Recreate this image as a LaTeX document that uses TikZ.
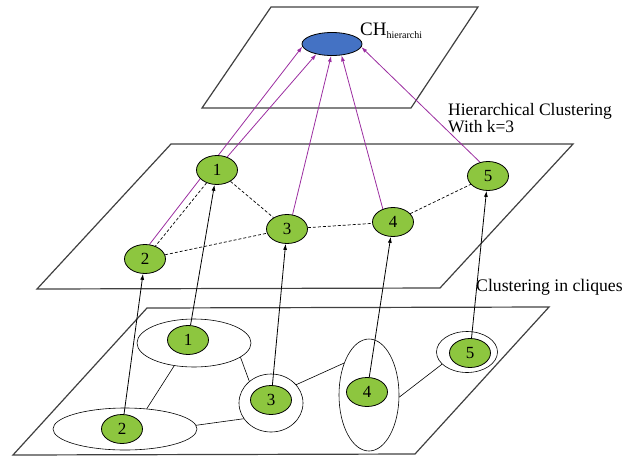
\documentclass[tikz,border=0pt]{standalone}
\usepackage{fontspec}
\setmainfont{Liberation Serif}
\usetikzlibrary{shapes.geometric,arrows.meta}
\definecolor{nodegreen}{RGB}{141,198,63}
\definecolor{chblue}{RGB}{68,114,196}
\definecolor{linkpurple}{RGB}{155,45,160}
\pgfdeclarelayer{back}
\pgfsetlayers{back,main}

\begin{document}
\begin{tikzpicture}[x=1pt,y=-1pt,
		vertice/.style = {ellipse,draw,line width=0.8pt,fill=nodegreen,minimum width=41pt,minimum height=29pt,inner sep=0pt,font=\fontsize{17}{17}\selectfont},
		clique/.style = {ellipse,draw,line width=0.6pt,inner sep=0pt},
		plane/.style = {draw=black!75,line width=1.2pt},
		link/.style = {line width=0.7pt,dash pattern=on 3pt off 2pt},
		lift/.style = {line width=0.8pt,-{Latex[length=6pt,width=4pt]}},
		merge/.style = {linkpurple,line width=0.8pt,-{Latex[length=6pt,width=4pt]}}]
		\useasboundingbox (0,0) rectangle (632,456);
		
		% top level
		\node[ellipse,draw,line width=0.8pt,fill=chblue,minimum width=60pt,minimum height=23pt] (ch) at (332,44) {};
		\node[anchor=base west,inner sep=0pt] (chname) at (360,35) {\fontsize{19}{19}\selectfont CH\raisebox{-3pt}{\fontsize{10}{10}\selectfont hierarchi}};
		\node[anchor=north west,align=left,inner sep=0pt,font=\fontsize{17.5}{17}\selectfont] (hclabel) at (448,103) {Hierarchical Clustering\\With k=3};
		
		% middle level
		\node[vertice] (m1) at (217,170) {1};
		\node[vertice] (m2) at (145,259) {2};
		\node[vertice] (m3) at (287,229) {3};
		\node[vertice] (m4) at (393,222) {4};
		\node[vertice] (m5) at (488,176) {5};
		\node[anchor=base west,inner sep=0pt,font=\fontsize{17.7}{17}\selectfont] (cqlabel) at (476,291) {Clustering in cliques};
		
		% bottom level
		\node[clique,minimum width=114pt,minimum height=48pt] (c1) at (194,343) {};
		\node[clique,minimum width=144pt,minimum height=42pt] (c2) at (125,429) {};
		\node[clique,minimum width=64pt,minimum height=58pt] (c3) at (271,403) {};
		\node[clique,minimum width=60pt,minimum height=112pt] (c4) at (369,395) {};
		\node[clique,minimum width=61pt,minimum height=41pt] (c5) at (467,352) {};
		\node[vertice] (b1) at (188,340) {1};
		\node[vertice] (b2) at (122,429) {2};
		\node[vertice] (b3) at (271,400) {3};
		\node[vertice] (b4) at (367,392) {4};
		\node[vertice] (b5) at (470,353) {5};
		
		\begin{pgfonlayer}{back}
			\draw[plane] (271,7) -- (478,7) -- (411,108) -- (202,108) -- cycle;
			\draw[plane] (171,144) -- (573,144) -- (440,288) -- (37,289) -- cycle;
			\draw[plane] (147,308) -- (549,307) -- (415,454) -- (13,455) -- cycle;
			
			\draw[line width=0.6pt] (c1.229) -- (c2.43);
			\draw[line width=0.6pt] (c1.343) -- (c3.135);
			\draw[line width=0.6pt] (c3.210) -- (c2.3);
			\draw[line width=0.6pt] (c3.36) -- (c4.128);
			\draw[line width=0.6pt] (c4.356) -- (c5.206);
			
			\draw[link] (m1) -- (m2);
			\draw[link] (m1) -- (m3);
			\draw[link] (m2) -- (m3);
			\draw[link] (m3) -- (m4);
			\draw[link] (m4) -- (m5);
			
			\draw[lift] (b1) -- (m1);
			\draw[lift] (b2) -- (m2);
			\draw[lift] (b3) -- (m3);
			\draw[lift] (b4) -- (m4);
			\draw[lift] (b5) -- (m5);
			
			\draw[merge] (m2.73) -- (ch.185);
			\draw[merge] (m1.52) -- (ch.213);
			\draw[merge] (m3.69) -- (ch.266);
			\draw[merge] (m4.128) -- (ch.310);
			\draw[merge] (m5.120) -- (ch.354);
		\end{pgfonlayer}
	\end{tikzpicture}
\end{document}
